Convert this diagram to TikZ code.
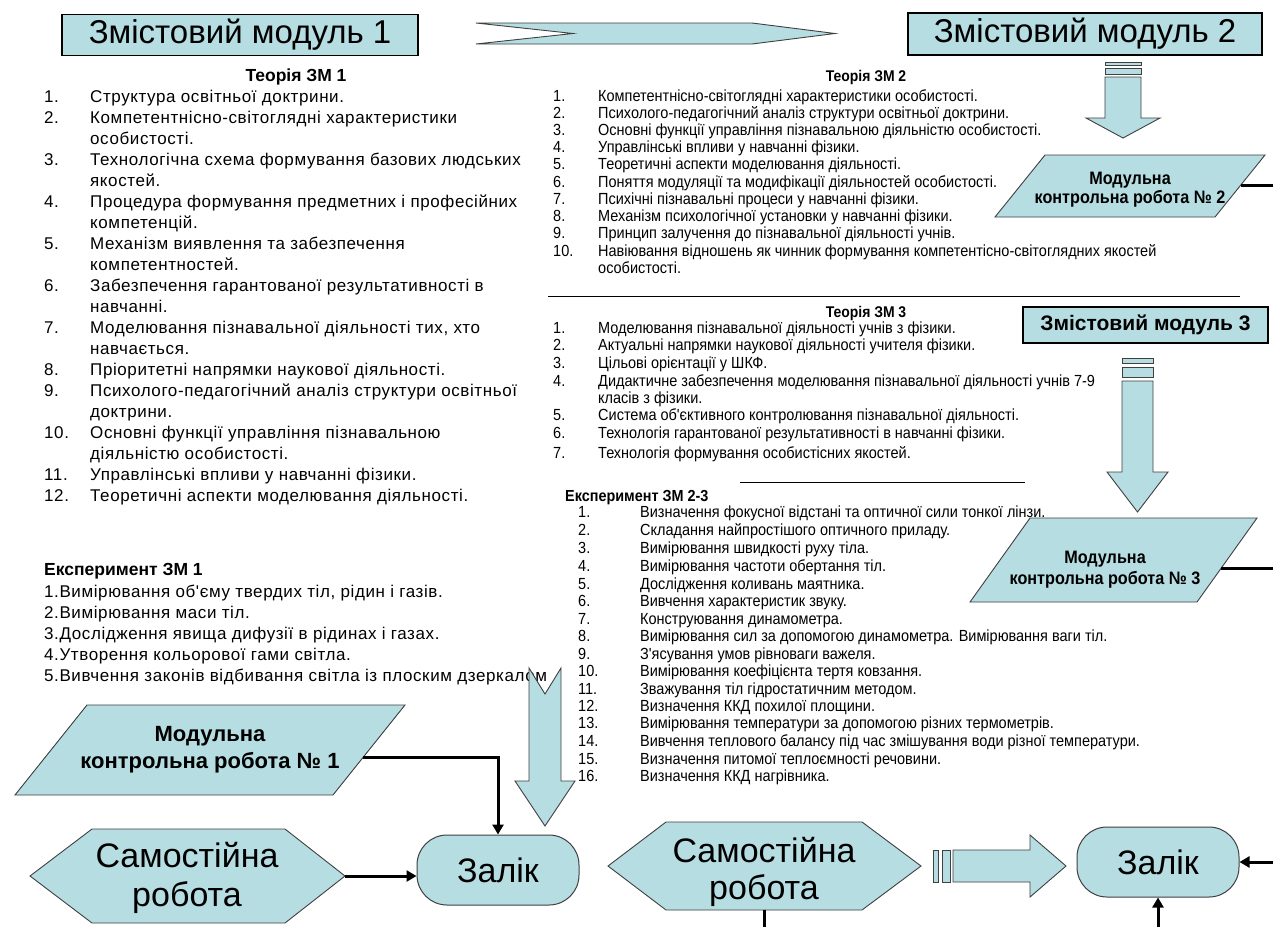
\documentclass[tikz,border=0pt]{standalone}
\usepackage{fontspec}
\setmainfont{Liberation Sans}
\newfontfamily\fwide[LetterSpace=3.5]{Liberation Sans}
\newfontfamily\fnarrow[FakeStretch=0.9]{Liberation Sans}
\usetikzlibrary{arrows.meta}
\definecolor{lb}{RGB}{182,221,226}
\definecolor{ol}{RGB}{64,64,64}
\tikzset{
 lt/.style={anchor=base west, inner sep=0pt, font=\fwide\fontsize{17}{20}\selectfont},
 mt/.style={anchor=base west, inner sep=0pt, font=\fnarrow\fontsize{16.1}{18}\selectfont},
 hd/.style={anchor=base, inner sep=0pt, font=\fnarrow\bfseries\fontsize{15.5}{18}\selectfont},
 hdl/.style={inner sep=0pt, font=\bfseries\fontsize{17.5}{20}\selectfont},
 blu/.style={fill=lb, draw=ol, line width=0.9pt, line join=miter},
 zmbox/.style={fill=lb, draw=black, line width=1.5pt, inner sep=0pt},
 zal/.style={fill=lb, draw=ol, line width=1pt, rounded corners=30pt, minimum width=162pt, minimum height=70pt, inner sep=0pt, font=\fontsize{34}{40}\selectfont},
 bigt/.style={anchor=base, inner sep=0pt, font=\fontsize{34}{40}\selectfont},
 mkt/.style={anchor=base, inner sep=0pt, font=\fnarrow\bfseries\fontsize{18}{21}\selectfont},
 wire/.style={line width=3pt},
 conn/.style={line width=3pt, -{Triangle[length=10pt,width=11pt]}},
}
\begin{document}
\begin{tikzpicture}[x=1pt,y=-1pt]
\useasboundingbox (0,0) rectangle (1273,926);
\clip (0,0) rectangle (1273,926);
\fill[white] (0,0) rectangle (1273,926);

% ---------- top row ----------
\node[zmbox, minimum width=356pt, minimum height=41pt, font=\fontsize{33}{40}\selectfont] (zm1) at (240,35) {Змістовий модуль 1};
\node[zmbox, minimum width=354pt, minimum height=42pt, font=\fontsize{33}{40}\selectfont] (zm2) at (1085,34) {Змістовий модуль 2};
\draw[blu] (476,23) -- (752,23) -- (835,33.5) -- (752,44) -- (476,44) -- (573,33.5) -- cycle;

% ---------- left column : theory 1 ----------
\node[hdl, anchor=base] (h1) at (296,81) {Теорія ЗМ 1};
\foreach \y/\t [count=\k] in {
96/{Структура освітньої доктрини.},
117/{Компетентнісно-світоглядні характеристики},
138/{особистості.},
159/{Технологічна схема формування базових людських},
180/{якостей.},
201/{Процедура формування предметних і професійних},
222/{компетенцій.},
243/{Механізм виявлення та забезпечення},
264/{компетентностей.},
285/{Забезпечення гарантованої результативності в},
306/{навчанні.},
327/{Моделювання пізнавальної діяльності тих, хто},
348/{навчається.},
369/{Пріоритетні напрямки наукової діяльності.},
390/{Психолого-педагогічний аналіз структури освітньої},
411/{доктрини.},
432/{Основні функції управління пізнавальною},
453/{діяльністю особистості.},
474/{Управлінські впливи у навчанні фізики.},
495/{Теоретичні аспекти моделювання діяльності.}}
{\node[lt] (la\k) at (90,\y+6) {\t};}
\foreach \y/\n [count=\k] in {96/1.,117/2.,159/3.,201/4.,243/5.,285/6.,327/7.,369/8.,390/9.,432/10.,474/11.,495/12.}
{\node[lt] (lan\k) at (44,\y+6) {\n};}

% ---------- left column : experiment 1 ----------
\node[hdl, anchor=base west] (h4) at (44,575) {Експеримент ЗМ 1};
\foreach \y/\t [count=\k] in {
591/{1.Вимірювання об'єму твердих тіл, рідин і газів.},
612/{2.Вимірювання маси тіл.},
633/{3.Дослідження явища дифузії в рідинах і газах.},
654/{4.Утворення кольорової гами світла.},
675/{5.Вивчення законів відбивання світла із плоским дзеркалом}}
{\node[lt] (le\k) at (44,\y+6) {\t};}

% ---------- middle column : theory 2 ----------
\node[hd] (h2) at (866,81) {Теорія ЗМ 2};
\foreach \y/\n/\t [count=\k] in {
96/1./{Компетентнісно-світоглядні характеристики  особистості.},
113/2./{Психолого-педагогічний аналіз структури освітньої доктрини.},
130/3./{Основні функції управління пізнавальною діяльністю особистості.},
147/4./{Управлінські впливи у навчанні фізики.},
164/5./{Теоретичні аспекти моделювання діяльності.},
182/6./{Поняття модуляції та модифікації діяльностей особистості.},
199/7./{Психічні пізнавальні процеси у навчанні фізики.},
216/8./{Механізм психологічної установки у навчанні фізики.},
233/9./{Принцип залучення до пізнавальної діяльності учнів.},
251/10./{Навіювання відношень як чинник формування компетентісно-світоглядних якостей}}
{\node[mt] (mbn\k) at (553,\y+5) {\n}; \node[mt] (mb\k) at (598,\y+5) {\t};}
\node[mt] (mb11) at (598,273) {особистості.};
\coordinate (s1a) at (548,296); \coordinate (s1b) at (1240,296);
\draw[line width=1pt] (s1a) -- (s1b);

% ---------- middle column : theory 3 ----------
\node[hd] (h3) at (866,317) {Теорія ЗМ 3};
\foreach \y/\n/\t [count=\k] in {
328/1./{Моделювання пізнавальної діяльності учнів з фізики.},
345/2./{Актуальні напрямки наукової діяльності учителя фізики.},
363/3./{Цільові орієнтації у ШКФ.},
381/4./{Дидактичне забезпечення моделювання пізнавальної діяльності учнів 7-9},
415/5./{Система об'єктивного контролювання пізнавальної діяльності.},
433/6./{Технологія гарантованої результативності в навчанні фізики.},
453/7./{Технологія формування особистісних якостей.}}
{\node[mt] (mcn\k) at (553,\y+5) {\n}; \node[mt] (mc\k) at (598,\y+5) {\t};}
\node[mt] (mc8) at (598,403) {класів з фізики.};
\coordinate (s2a) at (740,482); \coordinate (s2b) at (1025,482);
\draw[line width=1pt] (s2a) -- (s2b);

% ---------- middle column : experiment 2-3 ----------
\node[hd, anchor=base west, font=\fnarrow\bfseries\fontsize{16}{18}\selectfont] (h5) at (565,501) {Експеримент  ЗМ 2-3};
\foreach \y/\n/\t [count=\k] in {
512/1./{Визначення фокусної відстані та оптичної сили тонкої лінзи.},
530/2./{Складання найпростішого оптичного приладу.},
548/3./{Вимірювання швидкості руху тіла.},
566/4./{Вимірювання частоти обертання тіл.},
584/5./{Дослідження коливань маятника.},
601/6./{Вивчення характеристик звуку.},
619/7./{Конструювання динамометра.},
636/8./{Вимірювання сил за допомогою динамометра. Вимірювання ваги тіл.},
654/9./{З'ясування умов рівноваги важеля.},
671/10./{Вимірювання коефіцієнта тертя ковзання.},
689/11./{Зважування тіл гідростатичним методом.},
706/12./{Визначення ККД похилої площини.},
723/13./{Вимірювання температури за допомогою різних термометрів.},
741/14./{Вивчення теплового балансу під час змішування води різної температури.},
759/15./{Визначення питомої теплоємності речовини.},
776/16./{Визначення ККД нагрівника.}}
{\node[mt] (mdn\k) at (578,\y+5) {\n}; \node[mt] (md\k) at (640,\y+5) {\t};}

% ---------- right column ----------
\draw[blu] (1105,62) rectangle (1141,65);
\draw[blu] (1105,68) rectangle (1141,74);
\draw[blu] (1105,77) -- (1141,77) -- (1141,118) -- (1160,118) -- (1123,138) -- (1086,118) -- (1105,118) -- cycle;
\draw[blu] (1045,155) -- (1265,155) -- (1215,217) -- (995,217) -- cycle;
\node[mkt] (mk2a) at (1130,184) {Модульна};
\node[mkt] (mk2b) at (1130,203) {контрольна робота № 2};
\coordinate (m2r) at (1241,185); \coordinate (e2) at (1273,185);
\draw[wire] (m2r) -- (e2);

\node[zmbox, minimum width=245pt, minimum height=36pt, font=\bfseries\fontsize{21}{25}\selectfont] (zm3) at (1145.5,325) {Змістовий модуль 3};
\draw[blu] (1122,358) rectangle (1153,363);
\draw[blu] (1122,367) rectangle (1153,377);
\draw[blu] (1122,381) -- (1153,381) -- (1153,472) -- (1168,472) -- (1137.5,512) -- (1107,472) -- (1122,472) -- cycle;
\draw[blu] (1030,518) -- (1257,518) -- (1197,602) -- (970,602) -- cycle;
\node[mkt] (mk3a) at (1105,563) {Модульна};
\node[mkt] (mk3b) at (1105,584) {контрольна робота № 3};
\coordinate (m3r) at (1221,568); \coordinate (e3) at (1273,568);
\draw[wire] (m3r) -- (e3);

% ---------- bottom left ----------
\draw[blu] (87,705) -- (405,705) -- (333,795) -- (15,795) -- cycle;
\node[mkt, font=\bfseries\fontsize{22}{26}\selectfont] (mk1a) at (210,741) {Модульна};
\node[mkt, font=\bfseries\fontsize{22}{26}\selectfont] (mk1b) at (210,768) {контрольна робота № 1};
\draw[blu] (529,668) -- (545,694) -- (561,668) -- (561,781) -- (575,781) -- (545,826) -- (515,781) -- (529,781) -- cycle;
\draw[blu] (30,876) -- (92,829) -- (285,829) -- (345,876) -- (285,923) -- (92,923) -- cycle;
\node[bigt] (sr1a) at (187,867) {Самостійна};
\node[bigt] (sr1b) at (187,906) {робота};
\node[zal] (z1) at (498,870) {Залік};
\coordinate (m1r) at (363,757);
\draw[conn] (m1r) -| (z1.north);
\coordinate (h1r) at (345,876);
\draw[conn] (h1r) -- (h1r -| z1.west);

% ---------- bottom right ----------
\draw[blu] (608,866) -- (666,822) -- (862,822) -- (921,866) -- (862,910) -- (666,910) -- cycle;
\node[bigt] (sr2a) at (764,862) {Самостійна};
\node[bigt] (sr2b) at (764,899) {робота};
\draw[blu] (933,850) rectangle (938,882);
\draw[blu] (942,850) rectangle (950,882);
\draw[blu] (953,850) -- (1030,850) -- (1030,835) -- (1066,866) -- (1030,897) -- (1030,882) -- (953,882) -- cycle;
\node[zal] (z2) at (1158,862) {Залік};
\coordinate (h2b) at (764,910); \coordinate (b2) at (764,927);
\draw[wire] (h2b) -- (b2);
\coordinate (e4) at (1274,862);
\draw[conn] (e4) -- (z2.east);
\coordinate (b3) at (1158,927);
\draw[conn] (b3) -- (z2.south);
\end{tikzpicture}
\end{document}
